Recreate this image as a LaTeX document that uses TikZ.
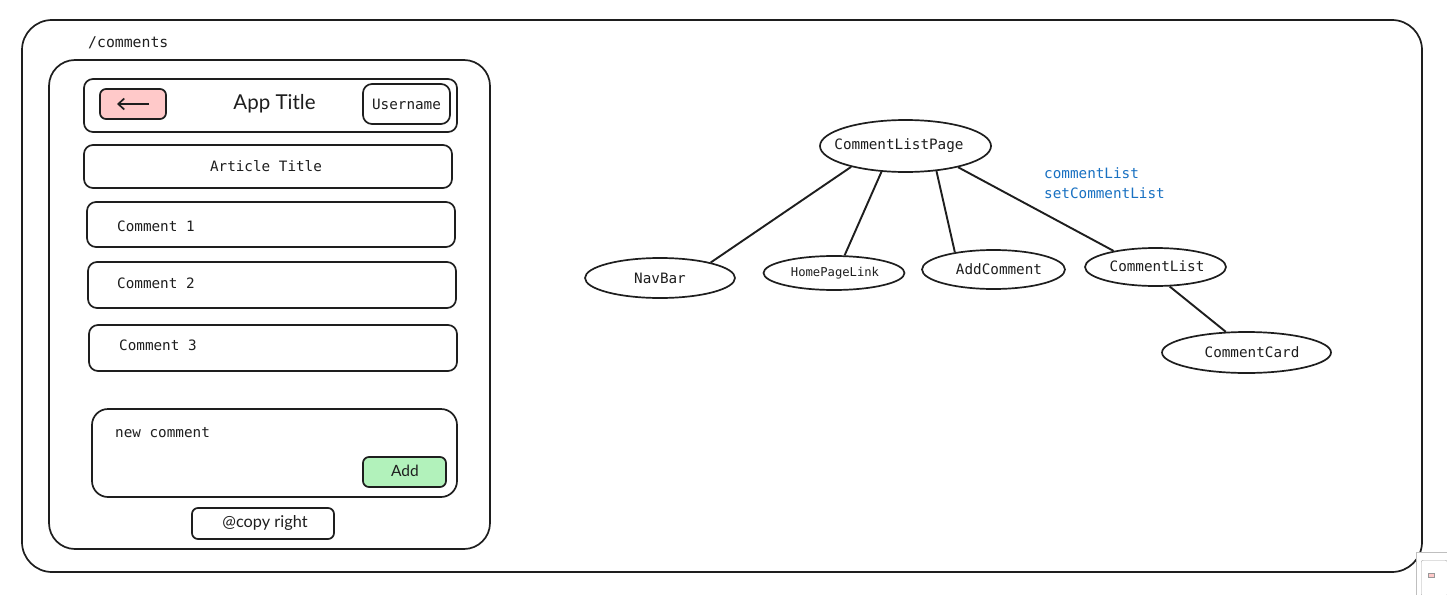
\documentclass[tikz,border=0pt]{standalone}
\usepackage{fontspec}
\setmainfont{Lato}
\newfontfamily\monofont{DejaVu Sans Mono}
\usetikzlibrary{shapes.geometric,arrows.meta}
\definecolor{ink}{HTML}{1E1E1E}
\definecolor{backfill}{HTML}{FFC9C9}
\definecolor{addfill}{HTML}{B2F2BB}
\definecolor{proptext}{HTML}{1971C2}
\tikzset{
  stroke/.style={draw=ink, line width=1.7pt},
  box/.style={stroke, rounded corners=9pt, inner sep=0pt},
  mono/.style={font=\monofont\fontsize{14.3}{16}\selectfont, text=ink, inner sep=0pt},
  sans/.style={font=\fontsize{16}{19}\selectfont, text=ink, inner sep=0pt},
  comp/.style={stroke, ellipse, inner sep=0pt},
  complabel/.style={label={[mono, #1]center:}},
  link/.style={draw=ink, line width=1.9pt},
}
\begin{document}
\begin{tikzpicture}[x=1pt,y=-1pt]
\useasboundingbox (0,0) rectangle (1447,594);
\fill[white] (0,0) rectangle (1447,594);

% outer canvas frame
\node[stroke, rounded corners=30pt, minimum width=1400, minimum height=552, inner sep=0pt] (frame) at (722,296) {};
\node[mono, font=\monofont\fontsize{14.8}{16}\selectfont, anchor=west] (route) at (88,43) {/comments};

% phone mock-up
\node[stroke, rounded corners=26pt, minimum width=441, minimum height=489, inner sep=0pt] (phone) at (269.5,304.5) {};

% header bar
\node[box, minimum width=373, minimum height=53] (header) at (270.5,105.5) {};
\node[box, rounded corners=6pt, fill=backfill, minimum width=66, minimum height=30] (back) at (133,104) {};
\coordinate (backtail) at (149,104);
\coordinate (backhead) at (117,104);
\draw[draw=ink, line width=1.7pt, -{Straight Barb[length=6pt,width=11pt]}] (backtail) -- (backhead);
\node[sans, font=\fontsize{20.5}{23}\selectfont] (apptitle) at (274.5,104) {App Title};
\node[box, minimum width=87, minimum height=40] (user) at (406.5,104) {};
\node[mono] (usertext) at (406.5,104) {Username};

% article and comments
\node[box, minimum width=368, minimum height=43] (article) at (268,166.5) {};
\node[mono] (articletext) at (266,166) {Article Title};
\node[box, minimum width=368, minimum height=45] (c1) at (271,224.5) {};
\node[mono, anchor=west] (c1text) at (117,226) {Comment 1};
\node[box, minimum width=368, minimum height=46] (c2) at (272,285) {};
\node[mono, anchor=west] (c2text) at (117,283) {Comment 2};
\node[box, minimum width=368, minimum height=46] (c3) at (273,348) {};
\node[mono, anchor=west] (c3text) at (119,345) {Comment 3};

% new comment form
\node[box, rounded corners=16pt, minimum width=365, minimum height=88] (form) at (274.5,453) {};
\node[mono, anchor=west] (formtext) at (115,433) {new comment};
\node[box, rounded corners=6pt, fill=addfill, minimum width=83, minimum height=30] (add) at (404.5,472) {};
\node[sans, font=\fontsize{15.5}{18}\selectfont] (addtext) at (405,471) {Add};

% footer
\node[box, rounded corners=6pt, minimum width=142, minimum height=31] (footer) at (263,523.5) {};
\node[sans, font=\fontsize{16.3}{19}\selectfont] (footertext) at (265,523) {@copy right};

% component tree
\node[comp, minimum width=171, minimum height=52] (page) at (905.5,146) {};
\node[mono] (pagetext) at (899,146) {CommentListPage};
\node[comp, minimum width=150, minimum height=40] (navbar) at (660,278) {};
\node[mono] (navbartext) at (660,278) {NavBar};
\node[comp, minimum width=141, minimum height=34] (homelink) at (834,273) {};
\node[mono, font=\monofont\fontsize{12.2}{14}\selectfont] (homelinktext) at (835,273) {HomePageLink};
\node[comp, minimum width=143, minimum height=39] (addcomment) at (993.5,269.5) {};
\node[mono] (addcommenttext) at (999,269) {AddComment};
\node[comp, minimum width=141, minimum height=38] (commentlist) at (1155.5,267) {};
\node[mono] (commentlisttext) at (1157,266) {CommentList};
\node[comp, minimum width=169, minimum height=41] (commentcard) at (1246.5,352.5) {};
\node[mono] (commentcardtext) at (1252,352) {CommentCard};

\draw[link] (page.201) -- (navbar.17);
\draw[link] (page.227) -- (homelink.59);
\draw[link] (page.321) -- (addcomment.156);
\draw[link] (page.338) -- (commentlist.159);
\draw[link] (commentlist.306) -- (commentcard.135);

\node[mono, text=proptext, anchor=west, align=left, font=\monofont\fontsize{14.3}{20}\selectfont] (props) at (1044,183) {commentList\\setCommentList};

% canvas minimap corner
\node[draw=black!25, fill=white, line width=0.6pt, minimum width=32, minimum height=44, inner sep=0pt, anchor=north west] (minimap) at (1416,552) {};
\node[draw=black!35, line width=0.4pt, rounded corners=2pt, minimum width=26, minimum height=36, inner sep=0pt, anchor=north west] (miniphone) at (1421,560) {};
\node[draw=black!40, fill=backfill, line width=0.3pt, minimum width=6, minimum height=4, inner sep=0pt] (miniback) at (1431,575) {};
\end{tikzpicture}
\end{document}
